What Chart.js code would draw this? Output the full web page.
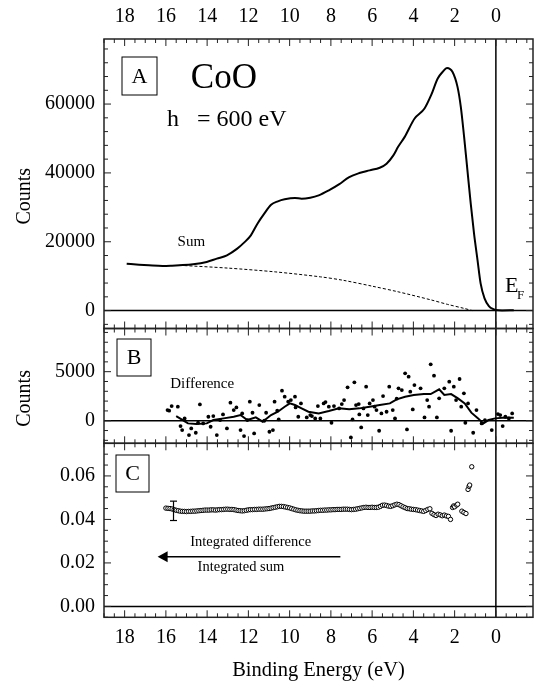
<!DOCTYPE html>
<html lang="en">
<head>
<meta charset="utf-8" />
<title>CoO</title>
<style>
  html, body { margin: 0; padding: 0; background: #fff; }
  #wrap { position: relative; width: 538px; height: 681px; }
</style>
</head>
<body>
<div id="wrap"><canvas id="chart" width="538" height="681"></canvas></div>

<script src="https://cdn.jsdelivr.net/npm/chart.js@4.4.0/dist/chart.umd.min.js"></script>
<script>
// tick labels
const energyTicks = [0, 2, 4, 6, 8, 10, 12, 14, 16, 18];
const sumTicks = [0, 20000, 40000, 60000];
const diffTicks = [0, 5000];
const ratioTicks = [0, 0.02, 0.04, 0.06];

// panel A : sum spectrum
const sumEnergy = [17.9, 17.3, 16.82, 16.16, 15.7, 15.34, 14.68, 14.02, 13.53, 13.04, 12.54, 12.21, 11.88, 11.56, 11.23,
  10.9, 10.57, 10.24, 9.74, 9.42, 9.0, 8.59, 8.1, 7.61, 7.11, 6.62, 6.12, 5.63, 5.3, 4.97, 4.74, 4.42, 3.94, 3.46, 3.14,
  2.82, 2.58, 2.37, 2.1, 1.86, 1.7, 1.54, 1.38, 1.22, 1.06, 0.89, 0.74, 0.55, 0.34, 0.1, 0, -0.3, -0.87];
const sumCounts = [13640, 13350, 13160, 12970, 13050, 13160, 13450, 14130, 15090, 16060, 18000, 19740, 21870, 25250, 28160,
  30770, 31740, 32320, 32700, 32510, 32800, 33480, 34930, 36670, 38800, 39960, 40740, 41510, 42670, 45090, 47570, 50470, 55810, 58710, 62580,
  67420, 69340, 70510, 69340, 64990, 59180, 50470, 40800, 31130, 22420, 14670, 7900, 3540, 1310, 350, 150, 50, 100];

// panel A : background (dashed)
const bgEnergy = [15.34, 13.0, 10.7, 8.5, 7.4, 6.0, 4.74, 3.14, 2.34, 1.54, 1.14];
const bgCounts = [13160, 12350, 11250, 9800, 8800, 7100, 5460, 3100, 1800, 640, 0];

// panel B : difference points
const diffEnergy = [15.92, 15.84, 15.72, 15.42, 15.29, 15.21, 15.09, 14.88, 14.77, 14.55, 14.44, 14.35, 14.19, 13.94, 13.83,
  13.7, 13.53, 13.37, 13.23, 13.04, 12.87, 12.71, 12.58, 12.38, 12.3, 12.21, 12.05, 11.93, 11.8, 11.72, 11.47, 11.23, 11.14,
  10.98, 10.81, 10.73, 10.6, 10.53, 10.37, 10.24, 10.07, 9.94, 9.74, 9.71, 9.58, 9.45, 9.17, 9.0, 8.92, 8.76, 8.63, 8.51,
  8.35, 8.26, 8.1, 7.97, 7.85, 7.6, 7.47, 7.36, 7.19, 7.03, 6.95, 6.86, 6.78, 6.65, 6.62, 6.53, 6.42, 6.29, 6.21, 6.12,
  5.96, 5.88, 5.79, 5.66, 5.55, 5.47, 5.3, 5.17, 5.0, 4.89, 4.81, 4.72, 4.56, 4.4, 4.31, 4.23, 4.15, 4.03, 3.95, 3.65,
  3.46, 3.33, 3.24, 3.16, 3.0, 2.86, 2.75, 2.5, 2.26, 2.17, 2.04, 1.93, 1.76, 1.68, 1.55, 1.48, 1.35, 1.1, 0.94, 0.69,
  0.53, 0.2, -0.1, -0.21, -0.33, -0.46, -0.63, -0.79];
const diffCounts = [1088, 1020, 1496, 1428, -544, -952, 238, -1462, -782, -1224, -204, 1667, -272, 408, -612,
  476, -1462, 68, 646, -782, 1837, 1088, 1360, -952, 748, -1564, 68, 1939, 816, -1292, 1598, 0, 816,
  -1122, -952, 1939, 1020, 136, 3061, 2449, 1939, 2109, 2449, 1360, 408, 1768, 340, 578, 476, 238, 1496, 238,
  1768, 1905, 1428, -204, 1496, 1258, 1700, 2109, 3401, -1700, 136, 3911, 1598, 1700, 646, -680, 1258, 3469, 578, 1768,
  2109, 1428, 1088, -1020, 748, 2517, 918, 3469, 1088, 238, 2245, 3299, 3129, 4829, -884, 4489, 2959, 1156, 3639, 3299,
  340, 2109, 1428, 5748, 4591, 340, 2279, 3299, 3979, -1020, 3469, 2109, 4251, 1428, 2789, -204, 1768, -1224, 1088, -272,
  68, -952, 680, 578, -544, 408, 238, 748];

// panel B : smoothed difference
const smoothEnergy = [15.5, 15.18, 14.93, 14.52, 14.02, 13.7, 13.2, 12.71, 12.38, 12.05, 11.64, 11.31, 10.9, 10.57, 10.24,
  9.99, 9.74, 9.42, 9.09, 8.59, 8.1, 7.61, 7.11, 6.62, 6.12, 5.63, 5.14, 4.81, 4.4, 3.98, 3.49, 3.16, 2.75, 2.5, 2.17,
  1.84, 1.51, 1.19, 0.86, 0.61, 0.36, 0.03, -0.46, -0.87];
const smoothCounts = [476, 70, -270, -340, -270, 70, 240, 410, 580, 70, 340, -100, 580, 920, 1430,
  1770, 1600, 1260, 920, 750, 990, 1260, 1160, 1260, 1430, 1600, 1770, 2180, 2450, 2620, 2720, 2720, 3200, 2620, 2720,
  2280, 1770, 820, 240, -270, 70, 240, 340, 310];

// panel C : integrated difference / integrated sum
const ratioEnergy = [
  16.0, 15.9, 15.8, 15.7, 15.6, 15.5, 15.4, 15.3, 15.2, 15.1, 15.0, 14.9, 14.8, 14.7, 14.6, 14.5, 14.4, 14.3, 14.2, 14.1,
  14.0, 13.9, 13.8, 13.7, 13.6, 13.5, 13.4, 13.3, 13.2, 13.1, 13.0, 12.9, 12.8, 12.7, 12.6, 12.5, 12.4, 12.3, 12.2, 12.1,
  12.0, 11.9, 11.8, 11.7, 11.6, 11.5, 11.4, 11.3, 11.2, 11.1, 11.0, 10.9, 10.8, 10.7, 10.6, 10.5, 10.4, 10.3, 10.2, 10.1,
  10.0, 9.9, 9.8, 9.7, 9.6, 9.5, 9.4, 9.3, 9.2, 9.1, 9.0, 8.9, 8.8, 8.7, 8.6, 8.5, 8.4, 8.3, 8.2, 8.1,
  8.0, 7.9, 7.8, 7.7, 7.6, 7.5, 7.4, 7.3, 7.2, 7.1, 7.0, 6.9, 6.8, 6.7, 6.6, 6.5, 6.4, 6.3, 6.2, 6.1,
  6.0, 5.9, 5.8, 5.7, 5.6, 5.5, 5.4, 5.3, 5.2, 5.1, 5.0, 4.9, 4.8, 4.7, 4.6, 4.5, 4.4, 4.3, 4.2, 4.1,
  4.0, 3.9, 3.8, 3.7, 3.6, 3.5, 3.4, 3.3, 3.2, 3.1, 3.0, 2.9, 2.8, 2.7, 2.6, 2.5, 2.4, 2.3, 2.2,
  2.1, 2.05, 2.0, 1.9, 1.85, 1.65, 1.55, 1.45, 1.35, 1.3, 1.27, 1.17];
const ratioValues = [
  .0452, .0451, .0450, .0448, .0445, .0442, .0440, .0438, .0437, .0437, .0436, .0437, .0437, .0438, .0438, .0439, .0440, .0441, .0442, .0443,
  .0443, .0443, .0444, .0444, .0443, .0444, .0445, .0445, .0446, .0447, .0447, .0446, .0446, .0445, .0443, .0441, .0440, .0439, .0440, .0442,
  .0444, .0445, .0445, .0446, .0446, .0447, .0447, .0447, .0448, .0449, .0450, .0452, .0454, .0456, .0458, .0460, .0460, .0459, .0457, .0455,
  .0453, .0450, .0447, .0444, .0442, .0440, .0439, .0438, .0438, .0438, .0438, .0439, .0439, .0440, .0441, .0442, .0442, .0443, .0443, .0444,
  .0444, .0445, .0445, .0446, .0446, .0446, .0447, .0447, .0447, .0446, .0445, .0446, .0447, .0449, .0451, .0453, .0455, .0456, .0455, .0455,
  .0456, .0455, .0455, .0456, .0460, .0465, .0466, .0464, .0461, .0460, .0463, .0467, .0470, .0468, .0463, .0458, .0454, .0450, .0449, .0447,
  .0446, .0445, .0443, .0441, .0439, .0437, .0441, .0446, .0449, .0428, .0422, .0418, .0424, .0421, .0417, .0420, .0416, .0414, .0400,
  .0455, .0462, .0458, .0466, .0470, .0438, .0432, .0427, .0538, .0552, .0558, .0642];

// error bar on panel C
const errEnergy = [15.63];
const errLow = [0.0395];
const errHigh = [0.0484];

const pts = (xs, ys) => xs.map((v, i) => ({x: v, y: ys[i]}));
const serif = '"Liberation Serif", "Times New Roman", serif';

Chart.defaults.font.family = serif;
Chart.defaults.font.size = 20;
Chart.defaults.color = '#000';

const panelIds = ['yA', 'yB', 'yC'];
const majorTicks = {yA: sumTicks, yB: diffTicks, yC: ratioTicks};
const minorStep = {yA: 4000, yB: 1000, yC: 0.005};

function marks(min, max, step) {
  const out = [];
  for (let k = Math.ceil(min / step - 1e-9); k * step <= max + 1e-9; k++) out.push(+(k * step).toFixed(6));
  return out;
}
function seg(ctx, x1, y1, x2, y2) {
  ctx.beginPath(); ctx.moveTo(x1, y1); ctx.lineTo(x2, y2); ctx.stroke();
}
function text(ctx, str, x, y, size, align, base) {
  ctx.font = size + 'px ' + serif;
  ctx.textAlign = align || 'left';
  ctx.textBaseline = base || 'alphabetic';
  ctx.fillText(str, x, y);
}

const framePlugin = {
  id: 'frames',
  afterDatasetsDraw(chart) {
    const {ctx, chartArea: a, scales} = chart;
    const x = scales.x;
    ctx.save();
    ctx.strokeStyle = '#000';
    ctx.fillStyle = '#000';
    ctx.lineWidth = 1.5;
    const x0 = x.getPixelForValue(0);
    seg(ctx, x0, a.top, x0, a.bottom);
    panelIds.forEach(id => {
      const s = scales[id];
      const y0 = s.getPixelForValue(0);
      ctx.lineWidth = 1.5;
      seg(ctx, a.left, y0, a.right, y0);
      ctx.strokeStyle = '#222';
      ctx.strokeRect(a.left, s.top, a.right - a.left, s.bottom - s.top);
      ctx.lineWidth = 1;
      marks(x.min, x.max, 0.5).forEach(v => {
        const px = x.getPixelForValue(v);
        const len = energyTicks.includes(v) ? 7 : 4;
        seg(ctx, px, s.top, px, s.top + len);
        seg(ctx, px, s.bottom, px, s.bottom - len);
      });
      marks(s.min, s.max, minorStep[id]).forEach(v => {
        const py = s.getPixelForValue(v);
        const len = majorTicks[id].some(m => Math.abs(m - v) < 1e-9) ? 7 : 4;
        seg(ctx, a.left, py, a.left + len, py);
        seg(ctx, a.right, py, a.right - len, py);
      });
      ctx.strokeStyle = '#000';
    });

    // panel labels and notes
    ctx.lineWidth = 1;
    ctx.strokeRect(122, 57, 35, 38);
    text(ctx, 'A', 139.5, 77, 22, 'center', 'middle');
    text(ctx, 'CoO', 190.8, 88, 35);
    text(ctx, 'h   = 600 eV', 167, 126, 24);
    text(ctx, 'Sum', 191.3, 242, 15, 'center', 'middle');
    text(ctx, 'E', 505, 292, 22);
    text(ctx, 'F', 517, 299, 13);

    ctx.strokeRect(117, 339, 34, 37);
    text(ctx, 'B', 134, 358.5, 22, 'center', 'middle');
    text(ctx, 'Difference', 202.2, 384, 15, 'center', 'middle');

    ctx.strokeRect(116, 455, 33, 37);
    text(ctx, 'C', 132.5, 474.5, 22, 'center', 'middle');
    text(ctx, 'Integrated difference', 250.7, 542, 14.5, 'center', 'middle');
    text(ctx, 'Integrated sum', 240.9, 567, 14.5, 'center', 'middle');

    // arrow in panel C
    const yC = scales.yC;
    const ay = yC.getPixelForValue(0.0228);
    const tip = x.getPixelForValue(16.4);
    ctx.lineWidth = 1.5;
    seg(ctx, x.getPixelForValue(7.54), ay, tip + 8, ay);
    ctx.beginPath();
    ctx.moveTo(tip, ay);
    ctx.lineTo(tip + 10, ay - 5.5);
    ctx.lineTo(tip + 10, ay + 5.5);
    ctx.closePath();
    ctx.fill();

    // error bar
    ctx.lineWidth = 1.2;
    errEnergy.forEach((e, i) => {
      const px = x.getPixelForValue(e);
      const lo = yC.getPixelForValue(errLow[i]);
      const hi = yC.getPixelForValue(errHigh[i]);
      seg(ctx, px, lo, px, hi);
      seg(ctx, px - 3.5, lo, px + 3.5, lo);
      seg(ctx, px - 3.5, hi, px + 3.5, hi);
    });
    ctx.restore();
  }
};

const xCommon = {
  type: 'linear', min: -1.8, max: 19, reverse: true,
  grid: {display: false, drawTicks: false}, border: {display: false},
  afterBuildTicks: s => { s.ticks = energyTicks.map(v => ({value: v})); },
};
function yAxis(min, max, ticks, weight, stackWeight, title, fmt) {
  return {
    type: 'linear', position: 'left', stack: 'panels', weight: weight, stackWeight: stackWeight,
    min: min, max: max,
    grid: {display: false, drawTicks: false}, border: {display: false},
    afterBuildTicks: s => { s.ticks = ticks.map(v => ({value: v})); },
    ticks: {padding: 9, callback: fmt},
    title: {display: !!title, text: title, font: {size: 20}, padding: {top: 13, bottom: 0}},
    afterFit: s => { s.width = 104; },
  };
}

new Chart(document.getElementById('chart'), {
  type: 'line',
  data: {
    datasets: [
      {data: pts(sumEnergy, sumCounts), yAxisID: 'yA', borderColor: '#000', borderWidth: 2,
        pointRadius: 0, cubicInterpolationMode: 'monotone'},
      {data: pts(bgEnergy, bgCounts), yAxisID: 'yA', borderColor: '#000', borderWidth: 1,
        borderDash: [3, 2], pointRadius: 0, tension: 0.3},
      {data: pts(diffEnergy, diffCounts), yAxisID: 'yB', showLine: false, pointRadius: 1.9,
        pointBackgroundColor: '#000', pointBorderWidth: 0},
      {data: pts(smoothEnergy, smoothCounts), yAxisID: 'yB', borderColor: '#000', borderWidth: 2,
        pointRadius: 0},
      {data: pts(ratioEnergy, ratioValues), yAxisID: 'yC', showLine: false, pointRadius: 2.2,
        pointBackgroundColor: '#fff', pointBorderColor: '#000', pointBorderWidth: 1},
    ],
  },
  options: {
    responsive: false,
    animation: false,
    layout: {padding: {left: 0, right: 1, top: 0, bottom: 0}},
    plugins: {legend: {display: false}, tooltip: {enabled: false}},
    scales: {
      x: Object.assign({}, xCommon, {
        position: 'bottom',
        ticks: {padding: 8, callback: v => String(v)},
        title: {display: true, text: 'Binding Energy (eV)', font: {size: 20.5}, padding: {top: 0, bottom: -2}},
        afterFit: s => { s.height = 63.7; },
      }),
      xTop: Object.assign({}, xCommon, {
        position: 'top',
        ticks: {padding: 10, callback: v => String(v)},
        afterFit: s => { s.height = 39; },
      }),
      yA: yAxis(-5200, 78900, sumTicks, 3, 289.5, 'Counts     ', v => String(v)),
      yB: yAxis(-2300, 9400, diffTicks, 2, 114.8, 'Counts     ', v => String(v)),
      yC: yAxis(-0.005, 0.075, ratioTicks, 1, 174, '', v => v.toFixed(2)),
    },
  },
  plugins: [framePlugin],
});
</script>
</body>
</html>
